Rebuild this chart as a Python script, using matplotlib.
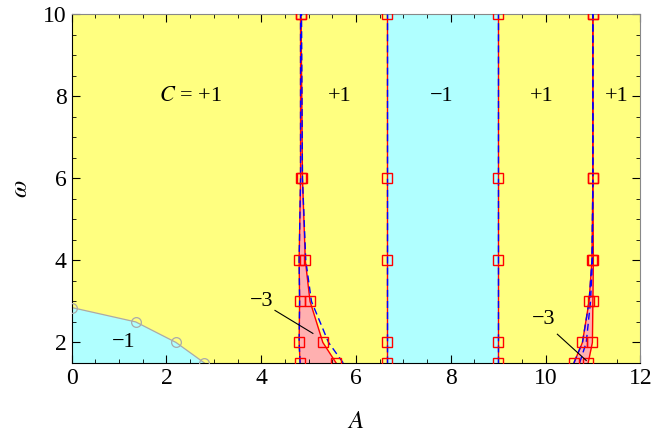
import numpy as np
import matplotlib.pyplot as plt
from matplotlib.ticker import MultipleLocator

plt.rcParams['font.family'] = 'Liberation Serif'
plt.rcParams['mathtext.fontset'] = 'stix'

# Colores de las regiones
amarillo = '#ffff80'
cian = '#b0ffff'
rosa = '#ffb0b0'

# Frontera de la region -1 (abajo a la izquierda), circulos
a_izq = [0.0, 1.35, 2.2, 2.8]
w_izq = [2.85, 2.5, 2.0, 1.5]

# Valores de omega con marcadores
w_pts = [1.5, 2, 3, 4, 6, 10]
w_pts_v = [1.5, 2, 4, 6, 10]

# Region -3 cerca de A ~ 4.8
a1_izq = [4.82, 4.80, 4.81, 4.80, 4.83, 4.83]
a1_der = [5.58, 5.30, 5.03, 4.93, 4.87, 4.84]
a1_teo = [5.73, 5.42, 5.06, 4.94, 4.87, 4.85]

# Fronteras verticales
a_v1 = 6.65
a_v2 = 9.0

# Region -3 cerca de A ~ 11
a2_izq = [10.60, 10.78, 10.92, 10.98, 11.0, 11.0]
a2_der = [10.90, 10.99, 11.0, 11.01, 11.0, 11.0]
a2_teo = [10.72, 10.86, 10.95, 10.99, 11.0, 11.0]

fig = plt.figure(figsize=(6.52, 4.41), dpi=100)
ax = fig.add_axes([0.110, 0.177, 0.872, 0.791])
ax.set_xlim(0, 12)
ax.set_ylim(1.5, 10)

# Fondo y regiones
ax.axvspan(0, 12, color=amarillo, lw=0, zorder=0)
ax.axvspan(a_v1, a_v2, color=cian, lw=0, zorder=0)
ax.fill_between(a_izq, 1.5, w_izq, color=cian, lw=0, zorder=0.5)
ax.fill_betweenx(w_pts, a1_izq, a1_der, color=rosa, lw=0, zorder=0.5)
ax.fill_betweenx(w_pts, a2_izq, a2_der, color=rosa, lw=0, zorder=0.5)

# Lineas y marcadores
ax.plot(a_izq, w_izq, '-', color='#aaaaaa', lw=0.9, zorder=2)
ax.plot(a_izq, w_izq, 'o', mfc='none', mec='#aaaaaa', ms=7, mew=0.9, zorder=3)

sq = dict(ls='none', marker='s', mfc='none', mec='red', ms=6.5, mew=1.0, zorder=4)
for a_l, a_r, a_t in [(a1_izq, a1_der, a1_teo), (a2_izq, a2_der, a2_teo)]:
    ax.plot(a_l, w_pts, '-', color='red', lw=1.0, zorder=2)
    ax.plot(a_r, w_pts, '-', color='red', lw=1.0, zorder=2)
    ax.plot(a_t, w_pts, '--', color='blue', lw=1.0, dashes=(5, 3), zorder=3)
    ax.plot(a_l, w_pts, '--', color='blue', lw=1.0, dashes=(5, 3), zorder=3)
    ax.plot(a_l, w_pts, **sq)
    ax.plot(a_r, w_pts, **sq)

for a in [a_v1, a_v2]:
    ax.plot([a] * len(w_pts_v), w_pts_v, '-', color='red', lw=1.0, zorder=2)
    ax.plot([a] * len(w_pts_v), w_pts_v, '--', color='blue', lw=1.0,
            dashes=(5, 3), zorder=3)
    ax.plot([a] * len(w_pts_v), w_pts_v, **sq)

# Etiquetas de los numeros de Chern
fs = 16
ax.text(2.5, 8.0, r'$C$ = +1', fontsize=fs, ha='center', va='center')
ax.text(5.66, 8.0, '+1', fontsize=fs, ha='center', va='center')
ax.text(7.8, 8.0, '\u22121', fontsize=fs, ha='center', va='center')
ax.text(9.93, 8.0, '+1', fontsize=fs, ha='center', va='center')
ax.text(11.5, 8.0, '+1', fontsize=fs, ha='center', va='center')
ax.text(1.1, 2.0, '\u22121', fontsize=fs, ha='center', va='center')
ax.text(4.0, 3.0, '\u22123', fontsize=fs, ha='center', va='center')
ax.text(9.95, 2.55, '\u22123', fontsize=fs, ha='center', va='center')
ax.plot([4.29, 5.09], [2.78, 2.22], color='black', lw=0.8, zorder=5)
ax.plot([10.25, 10.86], [2.2, 1.56], color='black', lw=0.8, zorder=5)

# Ejes
ax.xaxis.set_major_locator(MultipleLocator(2))
ax.xaxis.set_minor_locator(MultipleLocator(0.5))
ax.yaxis.set_major_locator(MultipleLocator(2))
ax.yaxis.set_minor_locator(MultipleLocator(0.5))
ax.tick_params(which='both', direction='in', top=True, right=True,
               labelsize=17)
ax.tick_params(which='major', length=6)
ax.tick_params(which='minor', length=3)
ax.set_xlabel(r'$A$', fontsize=18, labelpad=16)
ax.set_ylabel(r'$\omega$', fontsize=18, labelpad=8)
for s in ['top', 'right']:
    ax.spines[s].set_color('#888888')

fig.savefig('out.png', dpi=100)
